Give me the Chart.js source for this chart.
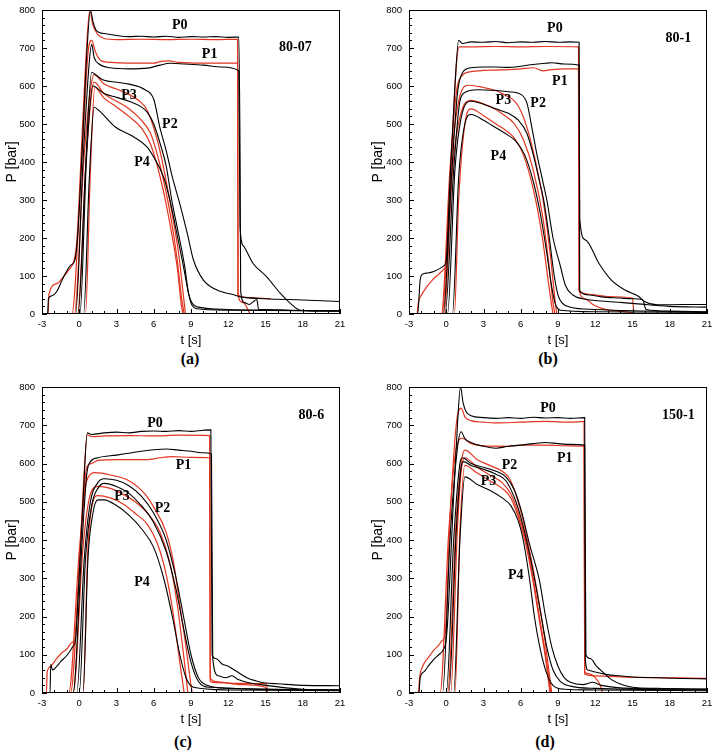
<!DOCTYPE html>
<html>
<head>
<meta charset="utf-8">
<script src="https://cdn.jsdelivr.net/npm/chart.js@4.4.0/dist/chart.umd.min.js"></script>
<style>
  body { margin: 0; background: #fff; width: 716px; height: 756px; position: relative; overflow: hidden; }
  .panel { position: absolute; }
  .cap { position: absolute; font: bold 16px "Liberation Serif", serif; transform: translate(-50%, -50%); }
</style>
</head>
<body>
<div class="panel" style="left:0;top:0;width:358px;height:350px"><canvas id="ca"></canvas></div>
<div class="panel" style="left:360px;top:0;width:356px;height:350px"><canvas id="cb"></canvas></div>
<div class="panel" style="left:0;top:376px;width:358px;height:353px"><canvas id="cc"></canvas></div>
<div class="panel" style="left:360px;top:376px;width:356px;height:353px"><canvas id="cd"></canvas></div>
<div class="cap" style="left:190px;top:359px">(a)</div>
<div class="cap" style="left:548px;top:359px">(b)</div>
<div class="cap" style="left:183px;top:742px">(c)</div>
<div class="cap" style="left:545px;top:742px">(d)</div>
<script>
// axis ticks
const xTicks = [-3, 0, 3, 6, 9, 12, 15, 18, 21];
const yTicks = [0, 100, 200, 300, 400, 500, 600, 700, 800];

// ---- (a) 80-07 : [t (s), P (bar)] ----
const a_exp_P0 = [[-3,0],[-2.55,0],[-2.48,40],[-2.2,48],[-1.8,60],[-1.3,95],[-0.7,128],[-0.35,142],[-0.1,220],[0.3,480],[0.6,680],[0.9,800],[1.1,770],[1.4,745],[2,738],[3,733],[4,730],[5,731],[6,729],[7,731],[8,728],[9,730],[10,729],[11,730],[12,728],[12.85,729],[12.95,420],[13.0,60],[13.3,30],[13.7,25],[14.0,32],[14.3,38],[14.45,12],[15,12],[17,10],[19,9],[21,8]];
const a_exp_P1 = [[-3,0],[-0.3,0],[0.3,400],[0.8,660],[1.0,710],[1.2,675],[1.6,658],[2.5,648],[4,645],[5.5,647],[6.5,655],[7.3,660],[8.5,658],[10,655],[11.5,650],[12.85,640],[12.95,230],[13.2,180],[14,133],[15.1,98],[16.2,54],[17,28],[17.8,10],[19,8],[21,8]];
const a_exp_P2 = [[-3,0],[-0.1,0],[0.5,380],[1.0,636],[1.5,625],[2,615],[3,610],[4,605],[5.3,590],[6.0,565],[6.5,490],[7.0,430],[7.5,360],[8.1,290],[8.7,212],[9.2,142],[10,89],[11.1,63],[12.5,50],[13,45],[15,40],[18,37],[21,33]];
const a_exp_P3 = [[-3,0],[0.05,0],[0.6,420],[1.1,600],[2,580],[3,570],[4,560],[5,545],[5.5,530],[6,500],[6.5,450],[7,390],[7.45,300],[8,210],[8.5,124],[8.8,55],[9.1,28],[9.6,18],[12,12],[15,10],[21,8]];
const a_exp_P4 = [[-3,0],[0.35,0],[0.8,350],[1.2,544],[1.6,535],[2.9,492],[4.4,466],[5.45,440],[6.0,413],[6.8,360],[7.3,300],[7.86,212],[8.4,124],[8.8,54],[9.06,24],[9.5,14],[12,10],[21,8]];
const a_sim_P0 = [[-3,0],[-2.5,0],[-2.45,50],[-1.8,80],[-1.26,98],[-0.8,118],[-0.45,138],[-0.2,190],[0.2,450],[0.5,650],[0.85,800],[1.1,760],[1.5,735],[2,725],[3,722],[5,723],[7,722],[9,723],[11,722],[12.75,723],[12.78,50],[13.2,30],[13.75,0]];
const a_sim_P1 = [[-3,0],[-0.6,0],[0.2,400],[0.75,700],[1.0,720],[1.3,690],[1.7,668],[2.5,662],[4,660],[6,660],[6.5,664],[7.2,666],[8,662],[10,660],[12.75,660],[12.8,50],[13.3,44],[14.5,42],[15.4,40]];
const a_sim_P2 = [[-3,0],[-0.4,0],[0.4,420],[1.2,630],[2,605],[3,592],[4,578],[4.8,562],[5.4,540],[6.0,490],[6.5,430],[7.0,350],[7.5,260],[8.0,160],[8.35,60],[8.55,0]];
const a_sim_P3 = [[-3,0],[-0.15,0],[0.6,430],[1.2,610],[2,580],[3,560],[4,540],[5,510],[5.7,478],[6.2,430],[6.8,350],[7.4,250],[7.9,140],[8.25,40],[8.45,0]];
const a_sim_P4 = [[-3,0],[0.5,0],[0.9,380],[1.25,596],[2,568],[3,545],[4,520],[5,490],[5.7,450],[6.2,400],[6.8,320],[7.4,220],[7.9,120],[8.2,30],[8.35,0]];

// ---- (b) 80-1 ----
const b_exp_P0 = [[-3,0],[-2.3,0],[-2.1,90],[-1.9,105],[-1.5,108],[-1,112],[-0.5,120],[-0.15,128],[0,140],[0.3,350],[0.7,600],[1.0,720],[1.3,712],[2,716],[3,715],[4,717],[5,714],[6,716],[7,715],[8,717],[9,715],[10,716],[10.7,715],[10.75,60],[11.5,50],[12.5,45],[14,42],[15,40],[15.8,38],[16.1,12],[18,8],[21,6]];
const b_exp_P1 = [[-3,0],[-0.25,0],[0.4,350],[0.9,580],[1.3,635],[2,648],[3,650],[4,650],[5,649],[6,652],[6.8,656],[8,660],[8.5,661],[9.5,658],[10.7,655],[10.75,250],[11.2,195],[12.3,133],[13.3,89],[14.4,63],[15.5,46],[16,32],[17,24],[19,25],[21,25]];
const b_exp_P2 = [[-3,0],[-0.1,0],[0.6,380],[1.1,560],[1.5,583],[2.5,590],[4,588],[5,585],[6,578],[6.5,555],[6.9,490],[7.3,420],[7.7,360],[8.1,300],[8.6,200],[9.2,125],[9.6,75],[10.2,50],[11,40],[13,33],[15,28],[18,20],[21,18]];
const b_exp_P3 = [[-3,0],[0.1,0],[0.7,380],[1.3,530],[2,560],[3,552],[4,540],[5,528],[5.8,510],[6.5,475],[7.0,420],[7.5,350],[7.9,290],[8.3,200],[8.7,100],[9.0,50],[9.3,30],[10,18],[12,12],[16,8],[21,5]];
const b_exp_P4 = [[-3,0],[0.5,0],[1.0,360],[1.5,500],[2,525],[3,510],[4,490],[5,470],[5.6,455],[6.3,420],[7.0,350],[7.6,260],[8.1,160],[8.5,70],[8.8,25],[9.2,10],[12,6],[21,4]];
const b_sim_P0 = [[-3,0],[-2.35,0],[-2.25,30],[-2.0,50],[-1.6,70],[-1.1,90],[-0.6,105],[-0.2,118],[0.05,140],[0.4,400],[0.8,650],[1.05,703],[2,703],[4,704],[6,703],[8,704],[10.65,703],[10.7,62],[11.5,52],[13,46],[15,42],[15.1,0]];
const b_sim_P1 = [[-3,0],[-0.4,0],[0.3,380],[0.8,580],[1.3,628],[2,638],[3,641],[4,642],[5,643],[6,645],[7,648],[7.8,640],[8.5,643],[9.5,645],[10.65,645],[10.7,62],[11.2,40],[11.8,25],[12.6,14],[14,7],[15,3],[15.1,0]];
const b_sim_P2 = [[-3,0],[-0.35,0],[0.4,400],[1.0,560],[1.8,602],[3,596],[4,588],[4.5,580],[5.5,560],[6,535],[6.6,480],[7.2,400],[7.8,300],[8.4,150],[8.75,40],[8.9,0]];
const b_sim_P3 = [[-3,0],[-0.2,0],[0.5,380],[1.2,530],[2,562],[3,553],[4,538],[4.5,527],[5.5,500],[6.2,460],[7.0,380],[7.8,250],[8.3,120],[8.6,30],[8.75,0]];
const b_sim_P4 = [[-3,0],[0.65,0],[1.0,300],[1.5,500],[2,540],[3,522],[4,500],[4.5,490],[5.5,462],[6.2,420],[7.0,330],[7.7,210],[8.2,90],[8.5,20],[8.6,0]];

// ---- (c) 80-6 ----
const c_exp_P0 = [[-3,0],[-2.35,0],[-2.3,75],[-2.15,60],[-1.8,70],[-1.5,82],[-1,98],[-0.5,122],[-0.3,140],[-0.1,250],[0.3,500],[0.65,680],[1,676],[2,680],[3,682],[4,680],[5,684],[6,685],[7,684],[8,686],[9,684],[10,687],[10.6,688],[10.7,100],[11,90],[11.5,76],[12,70],[12.6,58],[13.5,40],[14.2,32],[15,26],[16,24],[18,20],[21,19]];
const c_exp_P1 = [[-3,0],[-0.5,0],[0.2,380],[0.6,570],[0.8,600],[1.5,615],[3,622],[4,627],[5,632],[6,636],[7,638],[8,635],[9,632],[10,628],[10.65,625],[10.75,90],[11.2,45],[11.8,40],[12.3,45],[12.8,35],[13.5,28],[15,20],[18,10],[21,8]];
const c_exp_P2 = [[-3,0],[-0.2,0],[0.4,350],[0.9,500],[1.5,550],[2,560],[3,556],[4,542],[5,515],[6,470],[7,400],[7.8,300],[8.4,200],[9.0,100],[9.6,40],[10.3,20],[12,12],[21,8]];
const c_exp_P3 = [[-3,0],[0,0],[0.5,350],[1,490],[1.5,535],[2,548],[3,540],[4,522],[5,490],[6,445],[7,370],[7.8,270],[8.4,170],[9.0,80],[9.6,30],[10.5,15],[21,8]];
const c_exp_P4 = [[-3,0],[0.3,0],[0.7,350],[1.1,470],[1.5,505],[2,505],[3,490],[4,465],[5,430],[6,380],[6.8,300],[7.5,200],[8.1,100],[8.6,40],[9.2,15],[12,8],[21,6]];
const c_sim_P0 = [[-3,0],[-2.65,0],[-2.58,55],[-2.3,70],[-2,82],[-1.5,102],[-1,115],[-0.6,132],[-0.35,140],[-0.1,260],[0.3,520],[0.65,675],[1,670],[2,672],[4,673],[6,672],[8,674],[10.5,673],[10.55,30],[11,27],[13,25],[15.1,24],[15.15,0]];
const c_sim_P1 = [[-3,0],[-0.7,0],[0.1,380],[0.6,590],[1,600],[1.5,608],[3,610],[5.5,610],[6.5,615],[7.5,618],[9,616],[10.5,615],[10.55,40],[11,30],[13,22],[15,15],[15.1,0]];
const c_sim_P2 = [[-3,0],[-0.85,0],[0,370],[0.6,555],[1.3,576],[2.5,570],[4,555],[5.3,520],[6.1,480],[7,420],[7.6,340],[8.1,230],[8.6,120],[9.0,20],[9.1,0]];
const c_sim_P3 = [[-3,0],[-0.5,0],[0.3,380],[0.9,520],[1.5,540],[2.5,535],[3.5,520],[4.5,500],[5.5,470],[6.5,420],[7.3,340],[7.9,230],[8.4,100],[8.75,0]];
const c_sim_P4 = [[-3,0],[0.3,0],[0.7,380],[1.1,500],[1.5,516],[2.5,510],[3.5,495],[4.5,470],[5.5,440],[6.3,390],[7.0,310],[7.6,200],[8.1,80],[8.45,0]];

// ---- (d) 150-1 ----
const d_exp_P0 = [[-3,0],[-2.2,0],[-2.1,40],[-1.8,55],[-1.5,68],[-1,88],[-0.6,100],[-0.3,110],[-0.05,130],[0.1,180],[0.5,450],[0.9,700],[1.15,800],[1.35,760],[1.6,735],[2,725],[3,720],[4,718],[5,720],[6,718],[7,721],[8,719],[9,720],[10,718],[11.15,720],[11.2,90],[11.4,60],[12,55],[13,48],[14,45],[15,42],[17,40],[19,38],[21,37]];
const d_exp_P1 = [[-3,0],[-0.3,0],[0.3,400],[0.9,640],[1.2,683],[1.5,665],[2,655],[3,645],[4,640],[5,645],[6,648],[7,652],[8,655],[9,652],[10,650],[11.15,648],[11.25,100],[11.6,90],[12.1,70],[12.6,55],[13.3,35],[14.3,20],[15,15],[17,12],[21,10]];
const d_exp_P2 = [[-3,0],[0.0,0],[0.6,400],[1.1,600],[1.3,615],[2,600],[3,590],[4,580],[4.8,565],[5.5,530],[6.1,470],[6.7,390],[7.5,295],[8.0,200],[8.5,120],[9,70],[9.5,40],[10,28],[11,22],[11.8,28],[12.5,20],[15,12],[21,10]];
const d_exp_P3 = [[-3,0],[0.2,0],[0.8,420],[1.2,590],[1.4,605],[2,595],[3,585],[4,572],[4.8,555],[5.5,510],[6,460],[6.6,380],[7.1,300],[7.6,210],[8.1,120],[8.6,60],[9.2,30],[10,18],[12,12],[21,8]];
const d_exp_P4 = [[-3,0],[0.6,0],[1.1,400],[1.5,565],[2.5,545],[3.5,530],[4.5,510],[5.2,490],[5.8,450],[6.2,400],[6.7,300],[7.1,200],[7.6,110],[8.1,50],[8.6,20],[9.5,10],[12,8],[21,6]];
const d_sim_P0 = [[-3,0],[-2.25,0],[-2.15,40],[-1.9,70],[-1.5,90],[-1,112],[-0.6,125],[-0.3,138],[-0.1,150],[0.3,450],[0.8,700],[1.2,745],[1.5,722],[2,712],[3,708],[4,706],[6,708],[8,710],[10,708],[11.1,710],[11.15,50],[12,45],[14,42],[17,40],[21,38]];
const d_sim_P1 = [[-3,0],[-0.5,0],[0.2,420],[0.8,640],[1.3,666],[2,652],[3,646],[5,645],[6,648],[8,648],[10,646],[11.1,645],[11.15,55],[11.5,50],[12,40],[12.4,20],[12.6,0]];
const d_sim_P2 = [[-3,0],[0.1,0],[0.8,450],[1.2,600],[1.5,635],[2.5,610],[3.5,595],[4.5,580],[5.1,560],[5.6,520],[6.2,450],[6.9,340],[7.4,250],[7.9,150],[8.3,50],[8.5,0]];
const d_sim_P3 = [[-3,0],[0.35,0],[0.9,430],[1.2,580],[1.5,615],[2.5,590],[3.5,570],[4.5,550],[5.2,520],[5.8,470],[6.4,400],[7.0,300],[7.5,200],[8.0,100],[8.42,0]];
const d_sim_P4 = [[-3,0],[0.7,0],[1.1,420],[1.5,595],[2.5,575],[3.5,555],[4.5,535],[5.2,510],[5.8,460],[6.4,390],[7.0,290],[7.5,190],[8.0,90],[8.35,0]];

// curve labels: [text, t, P]
const a_labels = [['P0', 8.1, 759], ['P1', 10.5, 683], ['P2', 7.3, 500], ['P3', 4.0, 575], ['P4', 5.05, 400], ['80-07', 17.4, 702]];
const b_labels = [['P0', 8.75, 752], ['P1', 9.15, 611], ['P2', 7.4, 554], ['P3', 4.6, 563], ['P4', 4.2, 414], ['80-1', 18.7, 725]];
const c_labels = [['P0', 6.1, 704], ['P1', 8.4, 595], ['P2', 6.7, 482], ['P3', 3.45, 514], ['P4', 5.05, 290], ['80-6', 18.7, 726]];
const d_labels = [['P0', 8.2, 745], ['P1', 9.55, 613], ['P2', 5.1, 596], ['P3', 3.4, 552], ['P4', 5.6, 308], ['150-1', 18.7, 727]];

const RED = '#e2351f';

// frame, inward ticks and labels
const framePlugin = {
  id: 'frame',
  afterDraw(chart, args, opts) {
    const { ctx, chartArea: a } = chart;
    const x = chart.scales.x, y = chart.scales.y;
    ctx.save();
    ctx.strokeStyle = '#000';
    ctx.lineWidth = 1;
    ctx.strokeRect(Math.round(a.left) + 0.5, Math.round(a.top) + 0.5, Math.round(a.right - a.left) - 1, Math.round(a.bottom - a.top) - 1);
    ctx.beginPath();
    for (let t = -3; t <= 21; t += 1) {
      const px = Math.round(x.getPixelForValue(t)) + 0.5;
      const len = (t % 3 === 0) ? 5 : 3;
      ctx.moveTo(px, a.bottom);
      ctx.lineTo(px, a.bottom - len);
    }
    for (let p = 0; p <= 800; p += 20) {
      const py = Math.round(y.getPixelForValue(p)) + 0.5;
      const len = (p % 100 === 0) ? 5 : 3;
      ctx.moveTo(a.left, py);
      ctx.lineTo(a.left + len, py);
    }
    ctx.stroke();
    ctx.fillStyle = '#000';
    ctx.font = 'bold 14px "Liberation Serif"';
    ctx.textAlign = 'center';
    ctx.textBaseline = 'middle';
    opts.labels.forEach(l => ctx.fillText(l[0], x.getPixelForValue(l[1]), y.getPixelForValue(l[2])));
    ctx.restore();
  }
};

function toPts(arr) {
  return arr.map(p => ({ x: p[0], y: p[1] }));
}

function makePanel(id, exp, sim, labels, yWidth, pad) {
  const datasets = [];
  exp.forEach(s => datasets.push({ data: toPts(s), borderColor: '#000', borderWidth: 1.1 }));
  sim.forEach(s => datasets.push({ data: toPts(s), borderColor: RED, borderWidth: 1.2 }));
  datasets.forEach(d => { d.pointRadius = 0; d.fill = false; d.cubicInterpolationMode = 'monotone'; });

  new Chart(document.getElementById(id), {
    type: 'line',
    data: { datasets },
    options: {
      responsive: true,
      maintainAspectRatio: false,
      animation: false,
      layout: { padding: { top: pad.top, right: pad.right, left: 0, bottom: 0 } },
      plugins: {
        legend: { display: false },
        tooltip: { enabled: false },
        frame: { labels }
      },
      scales: {
        x: {
          type: 'linear', min: -3, max: 21,
          grid: { display: false, drawTicks: false }, border: { display: false },
          afterBuildTicks: s => { s.ticks = xTicks.map(v => ({ value: v })); },
          ticks: { color: '#000', font: { family: 'Liberation Sans', size: 9.5 }, padding: 5, maxRotation: 0, autoSkip: false },
          title: { display: true, text: 't [s]', color: '#000', font: { family: 'Liberation Sans', size: 13 }, padding: { top: 0, bottom: 2 } },
          afterFit: s => { s.height = 36; s.paddingLeft = 0; s.paddingRight = 0; }
        },
        y: {
          type: 'linear', min: 0, max: 800,
          grid: { display: false, drawTicks: false }, border: { display: false },
          afterBuildTicks: s => { s.ticks = yTicks.map(v => ({ value: v })); },
          ticks: { color: '#000', font: { family: 'Liberation Sans', size: 9.5 }, padding: 7, autoSkip: false },
          title: { display: true, text: 'P [bar]', color: '#000', font: { family: 'Liberation Sans', size: 14 }, padding: { top: pad.title, bottom: 0 } },
          afterFit: s => { s.width = yWidth; s.paddingTop = 0; s.paddingBottom = 0; }
        }
      }
    },
    plugins: [framePlugin]
  });
}

makePanel('ca', [a_exp_P0, a_exp_P1, a_exp_P2, a_exp_P3, a_exp_P4], [a_sim_P0, a_sim_P1, a_sim_P2, a_sim_P3, a_sim_P4], a_labels, 42, { top: 10, right: 18, title: 4 });
makePanel('cb', [b_exp_P0, b_exp_P1, b_exp_P2, b_exp_P3, b_exp_P4], [b_sim_P0, b_sim_P1, b_sim_P2, b_sim_P3, b_sim_P4], b_labels, 49, { top: 10, right: 9, title: 10 });
makePanel('cc', [c_exp_P0, c_exp_P1, c_exp_P2, c_exp_P3, c_exp_P4], [c_sim_P0, c_sim_P1, c_sim_P2, c_sim_P3, c_sim_P4], c_labels, 42, { top: 11, right: 18, title: 4 });
makePanel('cd', [d_exp_P0, d_exp_P1, d_exp_P2, d_exp_P3, d_exp_P4], [d_sim_P0, d_sim_P1, d_sim_P2, d_sim_P3, d_sim_P4], d_labels, 49, { top: 11, right: 9, title: 10 });
</script>
</body>
</html>
